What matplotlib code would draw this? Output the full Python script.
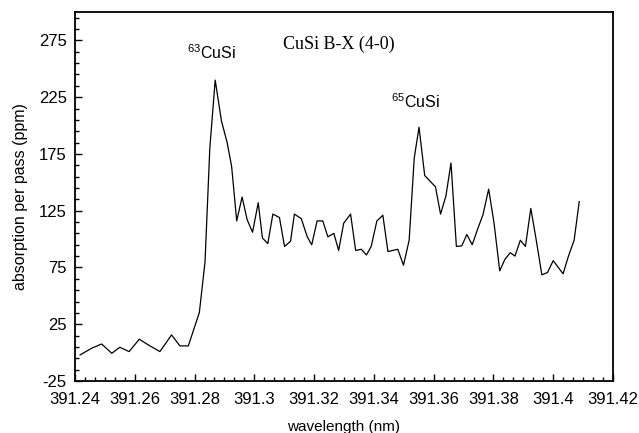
import numpy as np
import matplotlib.pyplot as plt

plt.rcParams['font.family'] = ['Liberation Sans', 'DejaVu Sans']
plt.rcParams['mathtext.fontset'] = 'custom'
plt.rcParams['mathtext.rm'] = 'Liberation Sans'
plt.rcParams['axes.unicode_minus'] = False

# wavelength (nm) and absorption per pass (ppm)
wavelength = [391.2417, 391.2456, 391.2489, 391.2523, 391.2550, 391.2581, 391.2615, 391.2645,
              391.2684, 391.2723, 391.2751, 391.2779, 391.2816, 391.2835, 391.2851, 391.2869,
              391.2890, 391.2909, 391.2924, 391.2941, 391.2959, 391.2976, 391.2994, 391.3013,
              391.3027, 391.3045, 391.3062, 391.3084, 391.3101, 391.3121, 391.3134, 391.3157,
              391.3177, 391.3192, 391.3210, 391.3229, 391.3246, 391.3266, 391.3282, 391.3299,
              391.3322, 391.3339, 391.3358, 391.3375, 391.3391, 391.3410, 391.3430, 391.3447,
              391.3463, 391.3480, 391.3499, 391.3518, 391.3535, 391.3551, 391.3570, 391.3588,
              391.3606, 391.3623, 391.3641, 391.3658, 391.3676, 391.3694, 391.3711, 391.3729,
              391.3746, 391.3765, 391.3784, 391.3802, 391.3821, 391.3838, 391.3856, 391.3872,
              391.3890, 391.3907, 391.3925, 391.3942, 391.3962, 391.3981, 391.4000, 391.4033,
              391.4051, 391.4070, 391.4087]
absorption = [-2, 3.9, 7.6, -0.6, 4.7, 0.9, 11.8, 6.8,
              0.9, 15.6, 5.9, 5.9, 35.3, 80, 180, 240,
              204, 185, 164, 116, 137, 117, 106, 132,
              101, 96, 122, 119, 93.5, 98, 122, 118,
              102, 95, 116, 116, 102, 105, 90, 114,
              122, 90, 91, 86, 93.5, 116, 121, 89,
              90, 91, 77, 99, 171.5, 198.5, 156, 151,
              146, 122, 138, 167, 93.5, 94, 104, 95,
              108, 121.5, 144, 114, 72, 82, 88, 85,
              99, 93.5, 127, 101, 68.5, 70.6, 81, 69.4,
              85, 99, 133]

x_ticks = np.round(np.arange(391.24, 391.4201, 0.02), 2)
x_labels = ["391.24", "391.26", "391.28", "391.3", "391.32", "391.34", "391.36", "391.38", "391.4", "391.42"]
y_ticks = [-25, 25, 75, 125, 175, 225, 275]

fig = plt.figure(figsize=(6.39, 4.33), dpi=100)
ax = fig.add_axes([0.1174, 0.1201, 0.8419, 0.8522])
ax.plot(wavelength, absorption, color="black", lw=0.9)

ax.set_xlim(391.24, 391.42)
ax.set_ylim(-25, 300)
ax.set_xticks(x_ticks)
ax.set_xticklabels(x_labels)
ax.set_xticks(np.arange(391.24, 391.42, 0.02 / 6), minor=True)
ax.set_yticks(y_ticks)
ax.set_yticks(np.arange(-15, 300, 10), minor=True)
ax.tick_params(which="both", direction="in", top=False, right=False, labelsize=12, width=1)
ax.tick_params(which="major", length=5)
ax.tick_params(which="minor", length=3)
ax.tick_params(axis="x", pad=8)
ax.tick_params(axis="y", pad=6)
for s in ax.spines.values():
    s.set_linewidth(1.3)

ax.set_xlabel("wavelength (nm)", fontsize=11, labelpad=9)
ax.set_ylabel("absorption per pass (ppm)", fontsize=11.5, labelpad=8)

ax.text(391.3096, 271.5, "CuSi B-X (4-0)", family="Liberation Serif", fontsize=13, va="center", ha="left")
ax.text(391.2775, 264, r"$^{63}$CuSi", fontsize=11.5, va="center", ha="left")
ax.text(391.3458, 221, r"$^{65}$CuSi", fontsize=11.5, va="center", ha="left")

plt.savefig("out.png", dpi=100)
